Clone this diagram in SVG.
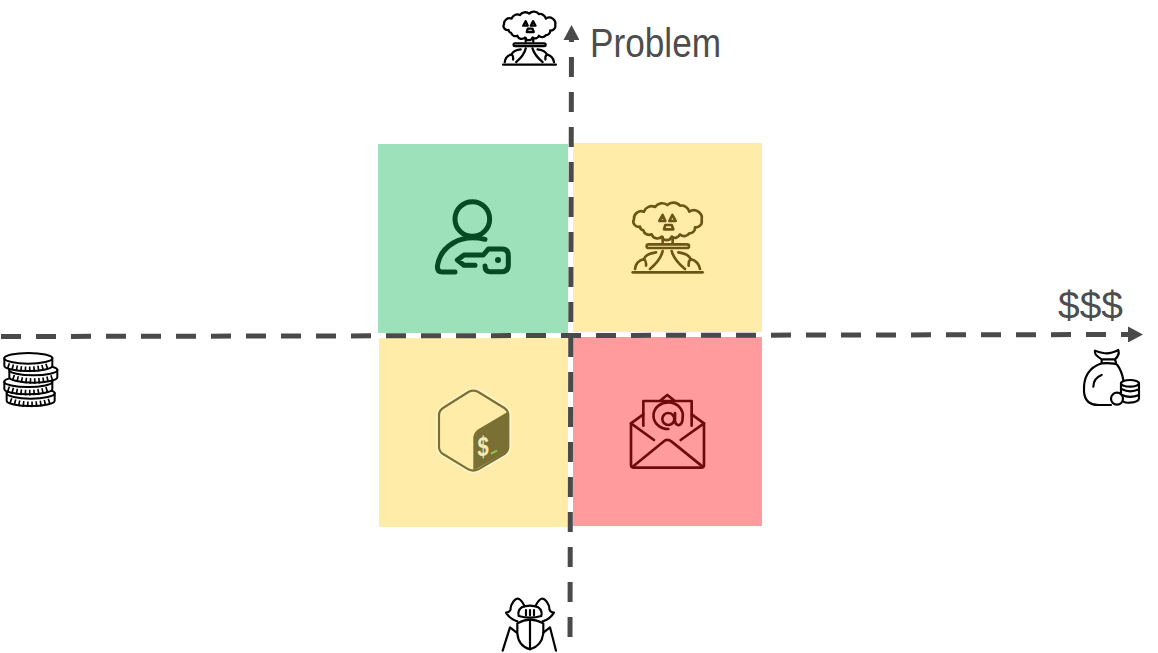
<svg xmlns="http://www.w3.org/2000/svg" xmlns:xlink="http://www.w3.org/1999/xlink" width="1158" height="653" viewBox="0 0 1158 653">
<style>
.axis{fill:none;stroke:#4a4a4a;stroke-width:5;stroke-dasharray:20 15}
.lbl{font-family:"Liberation Sans",Arial,sans-serif;fill:#4d4d4d}
.ln{fill:none;stroke-linecap:round;stroke-linejoin:round}
.k{stroke:#000;stroke-width:6.5}
</style>
<defs>
<marker id="head" markerUnits="userSpaceOnUse" markerWidth="16" markerHeight="16" refX="0" refY="8" orient="auto"><path d="M0,0L15,8L0,16Z" fill="#4a4a4a"/></marker>
<g id="cloud" class="ln">
<path d="M60,95A16,16 0 0 1 42,72A22,22 0 0 1 72,50A24,24 0 0 1 105,36A26,26 0 0 1 142,30A26,26 0 0 1 180,32A24,24 0 0 1 208,50A24,24 0 0 1 245,75A18,18 0 0 1 225,97A16,16 0 0 1 208,115A18,18 0 0 1 180,118A16,16 0 0 1 155,125A16,16 0 0 1 125,125A18,18 0 0 1 95,118A18,18 0 0 1 70,106A12,12 0 0 1 60,95Z"/>
<path d="M128,60L118,78L136,78ZM157,60L148,78L167,78ZM136,90L155,90L160,103L132,103Z"/>
<path d="M128,126V142M158,126V142"/>
<rect x="80" y="148" width="127" height="11" rx="5.5"/>
<path d="M128,168Q122,195 90,222M155,168Q162,195 195,222M45,222Q48,198 72,192Q78,176 108,172M240,222Q235,198 212,192Q205,176 175,172M72,192Q80,198 78,212M212,192Q205,198 206,212"/>
<path d="M38,232H248"/>
</g>
<g id="coin">
<path d="M-72,0V22A72,16 0 0 0 72,22V0Z" fill="#fff" stroke="#000" stroke-width="6"/>
<path d="M-62,22Q0,44 62,22" fill="none" stroke="#000" stroke-width="17" stroke-dasharray="5 8"/>
<ellipse cx="0" cy="0" rx="72" ry="16" fill="#fff" stroke="#000" stroke-width="6"/>
</g>
</defs>
<g id="quad-tl"><rect x="378" y="144" width="190" height="189" fill="#9de1bb"/>
<g transform="translate(420 190) scale(.3333)" class="ln" stroke="#044a22" stroke-width="15">
<circle cx="157" cy="87" r="52"/>
<path d="M195,148C120,130 60,170 52,230Q52,246 68,246H105"/>
<path d="M165,226H132L112,210L132,195H190L205,177H245Q265,177 265,197V225Q265,245 245,245H210Q195,245 195,228"/>
<circle cx="234" cy="210" r="9" fill="#044a22" stroke="none"/>
</g></g>
<g id="quad-tr"><rect x="573" y="143" width="189" height="189" fill="#ffeca8"/>
<use xlink:href="#cloud" href="#cloud" transform="translate(620 195) scale(.3333)" stroke="#6b5517" stroke-width="8"/></g>
<g id="quad-bl"><rect x="379" y="338" width="189" height="189" fill="#ffeca8"/>
<g transform="translate(425 380) scale(.3333)">
<path d="M130,36Q145,28 160,36L238,84Q250,92 250,106V200Q250,214 238,222L160,268Q145,276 130,268L54,222Q42,214 42,200V106Q42,92 54,84Z" fill="#ffeca8" stroke="#fff6cf" stroke-width="16" stroke-linejoin="round"/>
<path d="M130,36Q145,28 160,36L238,84Q250,92 250,106V200Q250,214 238,222L160,268Q145,276 130,268L54,222Q42,214 42,200V106Q42,92 54,84Z" fill="#ffeca8" stroke="#7b7033" stroke-width="6.5" stroke-linejoin="round"/>
<path d="M246,97L160,148Q145,158 145,175V272L238,220Q250,213 250,200V106Z" fill="#7b7033"/>
<text transform="translate(174 229) skewY(-8) scale(.72 1)" text-anchor="middle" font-family="'Liberation Sans',Arial,sans-serif" font-weight="700" font-size="84" fill="#f3eab0">$</text>
<path d="M198,221L216,212" stroke="#86cc50" stroke-width="6" fill="none"/>
</g></g>
<g id="quad-br"><rect x="573" y="337" width="189" height="189" fill="#ff9a9d"/>
<g transform="translate(620 385) scale(.3333)" class="ln" stroke="#6e0a0e" stroke-width="8">
<path d="M33,115V240Q33,248 42,248H243Q252,248 252,240V115M33,115L70,88M252,115L215,88"/>
<path d="M70,122V48H215V122M122,46L142,30L162,46"/>
<path d="M33,115L102,165M252,115L182,165M38,245L130,170Q142,160 155,170L248,245"/>
<circle cx="145" cy="102" r="18"/>
<path d="M165,84V108Q167,122 178,120Q188,116 188,98A44,40 0 1 0 145,132"/>
</g></g>
<g id="connectors">
<path class="axis" d="M570,637L571.5,40" marker-end="url(#head)"/>
<path class="axis" d="M1,336.5L1128,334.5" marker-end="url(#head)"/>
</g>
<g id="label-problem"><text class="lbl" x="590" y="57" font-size="41" textLength="131" lengthAdjust="spacingAndGlyphs">Problem</text></g>
<g id="label-money"><text class="lbl" x="1058" y="319" font-size="38" textLength="65" lengthAdjust="spacingAndGlyphs">$$$</text></g>
<g id="icon-problem"><use xlink:href="#cloud" href="#cloud" transform="translate(493.4 6) scale(.2524)" stroke="#000" stroke-width="9"/>
</g>
<g id="icon-coins" transform="translate(0 325) scale(.3333)">
<use xlink:href="#coin" href="#coin" x="92" y="205"/>
<use xlink:href="#coin" href="#coin" x="85" y="170"/>
<use xlink:href="#coin" href="#coin" x="100" y="135"/>
<use xlink:href="#coin" href="#coin" x="85" y="100"/>
</g>
<g id="icon-bag" transform="translate(1040 280) scale(.3333)" class="ln k">
<path d="M185,250C140,265 130,300 132,335Q135,375 175,375H213M232,255Q225,248 185,250M250,300Q245,272 232,255"/>
<path d="M185,250L185,238H225L228,248M185,238Q160,222 165,212Q190,220 200,220Q215,220 235,210Q240,225 225,238"/>
<path d="M160,320Q160,295 185,285"/>
<ellipse cx="270" cy="310" rx="27" ry="10"/>
<path d="M243,310V358Q250,370 270,368Q296,366 297,355V310M246,328Q270,340 297,328M246,345Q270,356 297,345"/>
<circle cx="231" cy="356" r="18" fill="#fff"/>
</g>
<g id="icon-bug" transform="translate(490 590) scale(.3333)" class="ln k">
<path d="M82,100Q120,78 160,100V130Q155,168 120,178Q85,168 82,130Z"/>
<path d="M120,90V178"/>
<path d="M86,78Q82,62 95,52Q120,42 145,52Q158,62 154,78Q120,88 86,78Z"/>
<path d="M108,60V76M120,60V76M132,60V76"/>
<path d="M103,47Q85,12 70,35Q60,50 62,58Q58,68 48,68Q60,88 82,94M137,47Q155,12 170,35Q180,50 178,58Q182,68 192,68Q180,88 158,94"/>
<path d="M80,128L60,112L38,182M160,128L180,112L198,182"/>
</g>
</svg>
